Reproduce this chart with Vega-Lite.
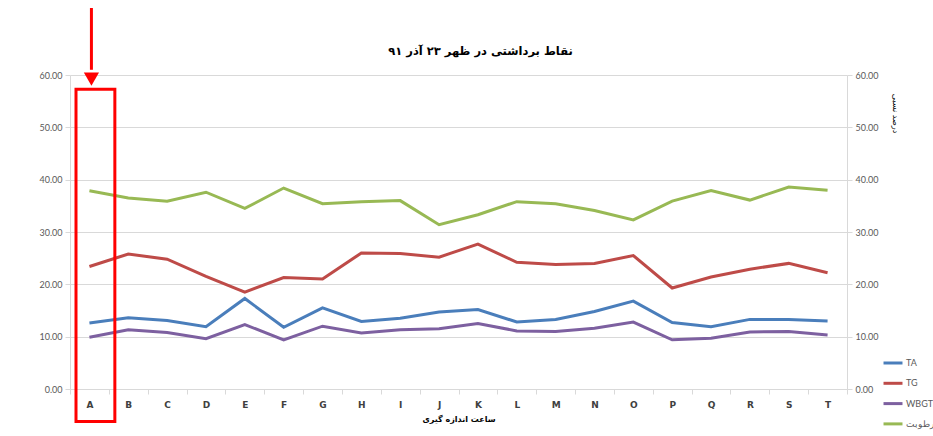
{
  "$schema": "https://vega.github.io/schema/vega-lite/v6.json",
  "width": 777,
  "height": 314,
  "autosize": {"type": "none"},
  "padding": {"left": 70, "top": 75, "right": 86, "bottom": 47},
  "background": "#ffffff",
  "title": {
    "text": "نقاط برداشتی در ظهر ۲۳ آذر ۹۱",
    "font": "DejaVu Sans",
    "fontSize": 11.5,
    "fontWeight": "bold",
    "color": "#000000",
    "anchor": "middle",
    "frame": "group",
    "dx": 22,
    "offset": 0,
    "dy": 51
  },
  "data": {
    "values": [
      {"point": "A", "series": "TA", "value": 12.6}, {"point": "A", "series": "TG", "value": 23.4}, {"point": "A", "series": "WBGT", "value": 9.9}, {"point": "A", "series": "رطوبت", "value": 37.9},
      {"point": "B", "series": "TA", "value": 13.6}, {"point": "B", "series": "TG", "value": 25.8}, {"point": "B", "series": "WBGT", "value": 11.3}, {"point": "B", "series": "رطوبت", "value": 36.5},
      {"point": "C", "series": "TA", "value": 13.1}, {"point": "C", "series": "TG", "value": 24.8}, {"point": "C", "series": "WBGT", "value": 10.8}, {"point": "C", "series": "رطوبت", "value": 35.9},
      {"point": "D", "series": "TA", "value": 11.9}, {"point": "D", "series": "TG", "value": 21.5}, {"point": "D", "series": "WBGT", "value": 9.6}, {"point": "D", "series": "رطوبت", "value": 37.6},
      {"point": "E", "series": "TA", "value": 17.3}, {"point": "E", "series": "TG", "value": 18.5}, {"point": "E", "series": "WBGT", "value": 12.3}, {"point": "E", "series": "رطوبت", "value": 34.5},
      {"point": "F", "series": "TA", "value": 11.8}, {"point": "F", "series": "TG", "value": 21.3}, {"point": "F", "series": "WBGT", "value": 9.4}, {"point": "F", "series": "رطوبت", "value": 38.4},
      {"point": "G", "series": "TA", "value": 15.5}, {"point": "G", "series": "TG", "value": 21.0}, {"point": "G", "series": "WBGT", "value": 12.0}, {"point": "G", "series": "رطوبت", "value": 35.4},
      {"point": "H", "series": "TA", "value": 12.9}, {"point": "H", "series": "TG", "value": 26.0}, {"point": "H", "series": "WBGT", "value": 10.7}, {"point": "H", "series": "رطوبت", "value": 35.8},
      {"point": "I", "series": "TA", "value": 13.5}, {"point": "I", "series": "TG", "value": 25.9}, {"point": "I", "series": "WBGT", "value": 11.3}, {"point": "I", "series": "رطوبت", "value": 36.0},
      {"point": "J", "series": "TA", "value": 14.7}, {"point": "J", "series": "TG", "value": 25.2}, {"point": "J", "series": "WBGT", "value": 11.5}, {"point": "J", "series": "رطوبت", "value": 31.4},
      {"point": "K", "series": "TA", "value": 15.2}, {"point": "K", "series": "TG", "value": 27.7}, {"point": "K", "series": "WBGT", "value": 12.5}, {"point": "K", "series": "رطوبت", "value": 33.3},
      {"point": "L", "series": "TA", "value": 12.8}, {"point": "L", "series": "TG", "value": 24.2}, {"point": "L", "series": "WBGT", "value": 11.1}, {"point": "L", "series": "رطوبت", "value": 35.8},
      {"point": "M", "series": "TA", "value": 13.3}, {"point": "M", "series": "TG", "value": 23.8}, {"point": "M", "series": "WBGT", "value": 11.0}, {"point": "M", "series": "رطوبت", "value": 35.4},
      {"point": "N", "series": "TA", "value": 14.8}, {"point": "N", "series": "TG", "value": 24.0}, {"point": "N", "series": "WBGT", "value": 11.6}, {"point": "N", "series": "رطوبت", "value": 34.1},
      {"point": "O", "series": "TA", "value": 16.8}, {"point": "O", "series": "TG", "value": 25.5}, {"point": "O", "series": "WBGT", "value": 12.8}, {"point": "O", "series": "رطوبت", "value": 32.3},
      {"point": "P", "series": "TA", "value": 12.7}, {"point": "P", "series": "TG", "value": 19.3}, {"point": "P", "series": "WBGT", "value": 9.4}, {"point": "P", "series": "رطوبت", "value": 35.9},
      {"point": "Q", "series": "TA", "value": 11.9}, {"point": "Q", "series": "TG", "value": 21.4}, {"point": "Q", "series": "WBGT", "value": 9.7}, {"point": "Q", "series": "رطوبت", "value": 37.9},
      {"point": "R", "series": "TA", "value": 13.3}, {"point": "R", "series": "TG", "value": 22.9}, {"point": "R", "series": "WBGT", "value": 10.9}, {"point": "R", "series": "رطوبت", "value": 36.1},
      {"point": "S", "series": "TA", "value": 13.3}, {"point": "S", "series": "TG", "value": 24.0}, {"point": "S", "series": "WBGT", "value": 11.0}, {"point": "S", "series": "رطوبت", "value": 38.6},
      {"point": "T", "series": "TA", "value": 13.0}, {"point": "T", "series": "TG", "value": 22.2}, {"point": "T", "series": "WBGT", "value": 10.3}, {"point": "T", "series": "رطوبت", "value": 38.0}
    ]
  },
  "layer": [
    {
      "transform": [{"filter": "datum.series !== 'رطوبت'"}],
      "mark": {"type": "line", "strokeWidth": 3},
      "encoding": {
        "x": {
          "field": "point",
          "type": "nominal",
          "bandPosition": 0.5,
          "scale": {"type": "band", "paddingInner": 0, "paddingOuter": 0},
          "axis": {
            "title": "ساعت اندازه گیری",
            "labelAngle": 0,
            "tickBand": "extent",
            "grid": false,
            "ticks": true,
            "tickSize": 5,
            "tickColor": "#d9d9d9",
            "domainColor": "#d9d9d9",
            "labelFont": "DejaVu Sans",
            "labelFontSize": 9,
            "labelFontWeight": "bold",
            "labelColor": "#404040",
            "labelPadding": 6,
            "titleFont": "DejaVu Sans",
            "titleFontSize": 8,
            "titleFontWeight": "bold",
            "titleColor": "#000000",
            "titlePadding": 6
          }
        },
        "y": {
          "field": "value",
          "type": "quantitative",
          "scale": {"domain": [0, 60], "nice": false},
          "axis": {
            "orient": "left",
            "title": null,
            "values": [0, 10, 20, 30, 40, 50, 60],
            "format": ".2f",
            "grid": true,
            "gridColor": "#d9d9d9",
            "domainColor": "#d9d9d9",
            "tickColor": "#d9d9d9",
            "tickSize": 5,
            "labelFont": "Lato",
            "labelFontSize": 9,
            "labelColor": "#595959",
            "labelPadding": 3
          }
        },
        "color": {
          "field": "series",
          "type": "nominal",
          "scale": {
            "domain": ["TA", "TG", "WBGT", "رطوبت"],
            "range": ["#4A7EBB", "#BE4B48", "#7D60A0", "#98B954"]
          },
          "legend": {
            "title": null,
            "orient": "none",
            "legendX": 812,
            "legendY": 277,
            "symbolType": "stroke",
            "symbolSize": 360,
            "symbolStrokeWidth": 3,
            "rowPadding": 3.3,
            "labelFont": "Lato",
            "labelFontSize": 9,
            "labelColor": "#595959",
            "labelOffset": 2
          }
        }
      }
    },
    {
      "transform": [{"filter": "datum.series === 'رطوبت'"}],
      "mark": {"type": "line", "strokeWidth": 3},
      "encoding": {
        "x": {"field": "point", "type": "nominal", "bandPosition": 0.5},
        "y": {
          "field": "value",
          "type": "quantitative",
          "axis": {
            "orient": "right",
            "title": "درصد نسبی",
            "titleAngle": 90,
            "titleY": 38,
            "titleAlign": "center",
            "titleFont": "DejaVu Sans",
            "titleFontSize": 8,
            "titleFontWeight": "normal",
            "titleColor": "#000000",
            "titlePadding": 12,
            "values": [0, 10, 20, 30, 40, 50, 60],
            "format": ".2f",
            "grid": false,
            "domainColor": "#d9d9d9",
            "tickColor": "#d9d9d9",
            "tickSize": 5,
            "labelFont": "Lato",
            "labelFontSize": 9,
            "labelColor": "#595959",
            "labelPadding": 3
          }
        },
        "color": {"field": "series", "type": "nominal"}
      }
    },
    {
      "data": {"values": [{}]},
      "mark": {"type": "rect", "filled": false, "stroke": "#ff0000", "strokeWidth": 3, "clip": false, "xOffset": 6},
      "encoding": {
        "x": {"datum": "A", "type": "nominal"},
        "y": {"datum": 57.3, "type": "quantitative", "axis": null},
        "y2": {"datum": -6.2}
      }
    },
    {
      "data": {"values": [{}]},
      "mark": {"type": "rule", "stroke": "#ff0000", "strokeWidth": 3, "clip": false, "xOffset": 2},
      "encoding": {
        "x": {"datum": "A", "type": "nominal", "bandPosition": 0.5},
        "y": {"datum": 72.8, "type": "quantitative", "axis": null},
        "y2": {"datum": 61.0}
      }
    },
    {
      "data": {"values": [{}]},
      "mark": {"type": "point", "shape": "triangle-down", "filled": true, "fill": "#ff0000", "stroke": null, "opacity": 1, "size": 230, "clip": false, "xOffset": 2},
      "encoding": {
        "x": {"datum": "A", "type": "nominal", "bandPosition": 0.5},
        "y": {"datum": 59.2, "type": "quantitative", "axis": null}
      }
    }
  ],
  "resolve": {"axis": {"y": "independent"}},
  "config": {
    "view": {"stroke": null}
  }
}
